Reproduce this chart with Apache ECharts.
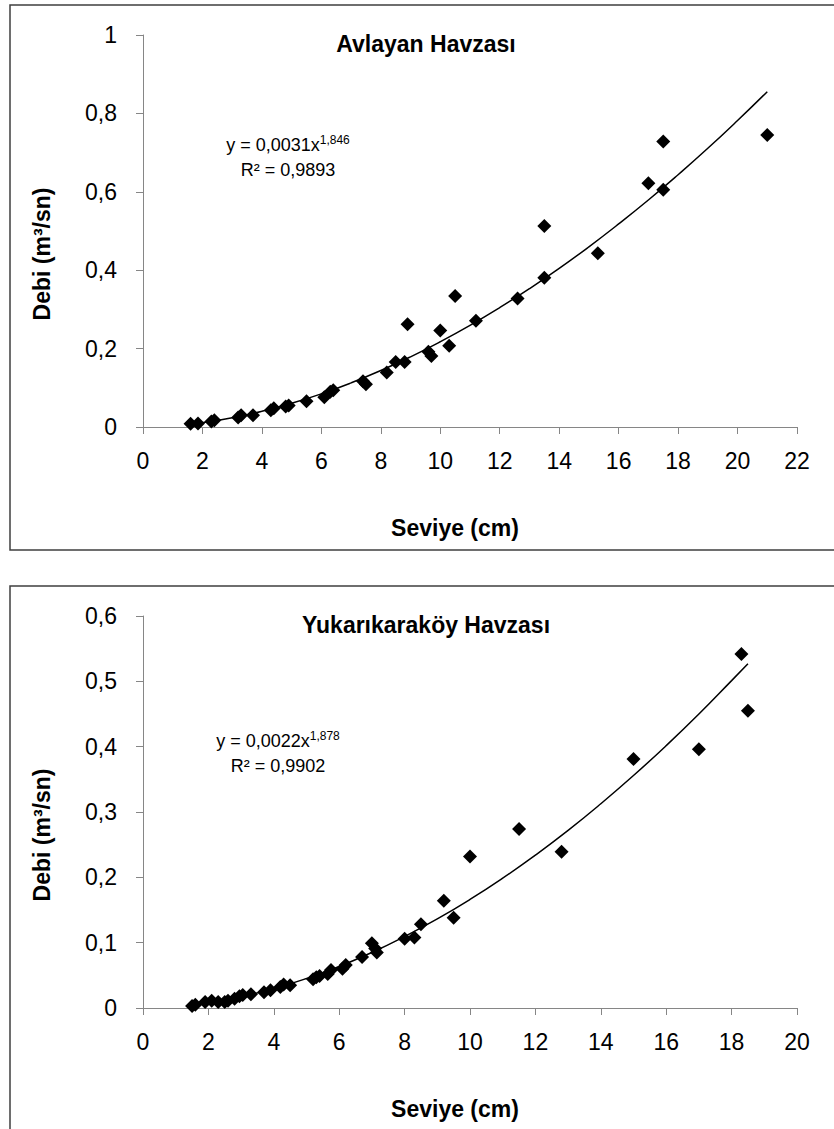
<!DOCTYPE html>
<html>
<head>
<meta charset="utf-8">
<script src="https://cdn.jsdelivr.net/npm/echarts@6/dist/echarts.min.js"></script>
<style>
html,body{margin:0;padding:0;background:#fff;}
#c{width:834px;height:1129px;}
</style>
</head>
<body>
<div id="c"></div>
<script>
// ---- Avlayan Havzası ----
const avX = [1.6, 1.85, 2.3, 2.4, 3.2, 3.3, 3.7, 4.3, 4.4, 4.8, 4.9, 5.5, 6.1, 6.3, 6.4, 7.4, 7.5, 8.2, 8.5, 8.8, 8.9, 9.6, 9.7, 10.0, 10.3, 10.5, 11.2, 12.6, 13.5, 13.5, 15.3, 17.0, 17.5, 17.5, 21.0];
const avY = [0.008, 0.009, 0.014, 0.017, 0.024, 0.030, 0.030, 0.043, 0.048, 0.052, 0.055, 0.066, 0.076, 0.090, 0.094, 0.117, 0.109, 0.139, 0.166, 0.166, 0.262, 0.192, 0.181, 0.246, 0.207, 0.334, 0.271, 0.328, 0.381, 0.513, 0.443, 0.622, 0.728, 0.605, 0.745];
// trend line
const avTrendX = [1.6, 2, 3, 4, 5, 6, 7, 8, 9, 10, 11, 12, 13, 14, 15, 16, 17, 18, 19, 20, 21];
const avTrendY = [0.0074, 0.0111, 0.0236, 0.0401, 0.0605, 0.0847, 0.1126, 0.1440, 0.1790, 0.2175, 0.2593, 0.3045, 0.3529, 0.4046, 0.4597, 0.5180, 0.5791, 0.6436, 0.7110, 0.7818, 0.8554];
const avXTicks = [0, 22, 2];
const avYTicks = [0, 1, 0.2];

// ---- Yukarıkaraköy Havzası ----
const ykX = [1.5, 1.6, 1.9, 2.1, 2.3, 2.5, 2.6, 2.8, 2.95, 3.05, 3.3, 3.7, 3.9, 4.2, 4.3, 4.5, 5.2, 5.3, 5.4, 5.65, 5.75, 6.1, 6.2, 6.7, 7.0, 7.1, 7.15, 8.0, 8.3, 8.5, 9.2, 9.5, 10.0, 11.5, 12.8, 15.0, 17.0, 18.3, 18.5];
const ykY = [0.003, 0.005, 0.009, 0.011, 0.009, 0.009, 0.011, 0.014, 0.018, 0.020, 0.021, 0.024, 0.027, 0.032, 0.036, 0.035, 0.044, 0.047, 0.049, 0.052, 0.058, 0.060, 0.066, 0.078, 0.099, 0.091, 0.085, 0.106, 0.108, 0.128, 0.164, 0.138, 0.232, 0.274, 0.239, 0.381, 0.396, 0.542, 0.455];
const ykTrendX = [1.5, 2, 3, 4, 5, 6, 7, 8, 9, 10, 11, 12, 13, 14, 15, 16, 17, 18, 18.5];
const ykTrendY = [0.0047, 0.0081, 0.0173, 0.0297, 0.0452, 0.0636, 0.0850, 0.1093, 0.1363, 0.1661, 0.1987, 0.2340, 0.2719, 0.3126, 0.3558, 0.4016, 0.4500, 0.5011, 0.527];
const ykXTicks = [0, 20, 2];
const ykYTicks = [0, 0.6, 0.1];

const titles = ['Avlayan Havzası', 'Yukarıkaraköy Havzası'];
const xName = 'Seviye (cm)';
const yName = 'Debi (m³/sn)';
const eqs = [['y = 0,0031x', '1,846', 'R² = 0,9893'], ['y = 0,0022x', '1,878', 'R² = 0,9902']];

const FONT = "'Liberation Sans Narrow', 'Liberation Sans', Arial, sans-serif";
const zip = (a, b) => a.map((v, i) => [v, b[i]]);
const fmt = v => String(Math.round(v * 10) / 10).replace('.', ',');

function xAxis(ticks, gi) {
  return {
    type: 'value', gridIndex: gi, min: ticks[0], max: ticks[1], interval: ticks[2],
    axisLine: {show: true, lineStyle: {color: '#868686', width: 1}},
    axisTick: {show: true, length: 7, lineStyle: {color: '#868686'}},
    splitLine: {show: false},
    axisLabel: {fontFamily: FONT, fontSize: 23, color: '#000', margin: 22, formatter: fmt}
  };
}
function yAxis(ticks, gi) {
  return {
    type: 'value', gridIndex: gi, min: ticks[0], max: ticks[1], interval: ticks[2],
    axisLine: {show: true, lineStyle: {color: '#868686', width: 1}},
    axisTick: {show: true, length: 7, lineStyle: {color: '#868686'}},
    splitLine: {show: false},
    axisLabel: {fontFamily: FONT, fontSize: 23, color: '#000', margin: 26, formatter: fmt}
  };
}

const offsets = [0, 581];
const graphics = [];
offsets.forEach((o, i) => {
  graphics.push({type: 'rect', shape: {x: 10, y: 5 + o, width: 900, height: i === 0 ? 545 : 700},
    style: {fill: 'none', stroke: '#3f3f3f', lineWidth: 1.5}, silent: true, z: -1});
  graphics.push({type: 'text', x: 426, y: 44 + o,
    style: {text: titles[i], font: 'bold 23px ' + FONT, fill: '#000', textAlign: 'center', textVerticalAlign: 'middle'}});
  graphics.push({type: 'text', x: 455, y: 528 + o,
    style: {text: xName, font: 'bold 23px ' + FONT, fill: '#000', textAlign: 'center', textVerticalAlign: 'middle'}});
  graphics.push({type: 'text', x: 42, y: 254 + o, rotation: Math.PI / 2,
    style: {text: yName, font: 'bold 23px ' + FONT, fill: '#000', textAlign: 'center', textVerticalAlign: 'middle'}});
  const ex = i === 0 ? 288 : 278;
  const ey = i === 0 ? 145 : 741 - o;
  graphics.push({type: 'text', x: ex, y: ey + o,
    style: {text: '{a|' + eqs[i][0] + '}{s|' + eqs[i][1] + '}',
      rich: {a: {fontFamily: FONT, fontSize: 18, fill: '#000', lineHeight: 22},
             s: {fontFamily: FONT, fontSize: 12, fill: '#000', verticalAlign: 'top', lineHeight: 22, padding: [0, 0, 6, 0]}},
      textAlign: 'center', textVerticalAlign: 'middle'}});
  graphics.push({type: 'text', x: ex, y: ey + 25 + o,
    style: {text: eqs[i][2], font: '18px ' + FONT, fill: '#000', textAlign: 'center', textVerticalAlign: 'middle'}});
});

const chart = echarts.init(document.getElementById('c'), null, {renderer: 'svg'});
chart.setOption({
  animation: false,
  backgroundColor: '#fff',
  grid: [
    {left: 143, top: 35, width: 654, height: 392},
    {left: 143, top: 616, width: 654, height: 392}
  ],
  xAxis: [xAxis(avXTicks, 0), xAxis(ykXTicks, 1)],
  yAxis: [yAxis(avYTicks, 0), yAxis(ykYTicks, 1)],
  series: [
    {type: 'line', xAxisIndex: 0, yAxisIndex: 0, data: zip(avTrendX, avTrendY), smooth: true,
     showSymbol: false, lineStyle: {color: '#000', width: 1.5}, z: 3},
    {type: 'scatter', xAxisIndex: 0, yAxisIndex: 0, data: zip(avX, avY), symbol: 'diamond',
     symbolSize: 14, itemStyle: {color: '#000', opacity: 1}, z: 2},
    {type: 'line', xAxisIndex: 1, yAxisIndex: 1, data: zip(ykTrendX, ykTrendY), smooth: true,
     showSymbol: false, lineStyle: {color: '#000', width: 1.5}, z: 3},
    {type: 'scatter', xAxisIndex: 1, yAxisIndex: 1, data: zip(ykX, ykY), symbol: 'diamond',
     symbolSize: 14, itemStyle: {color: '#000', opacity: 1}, z: 2}
  ],
  graphic: graphics
});
</script>
</body>
</html>
